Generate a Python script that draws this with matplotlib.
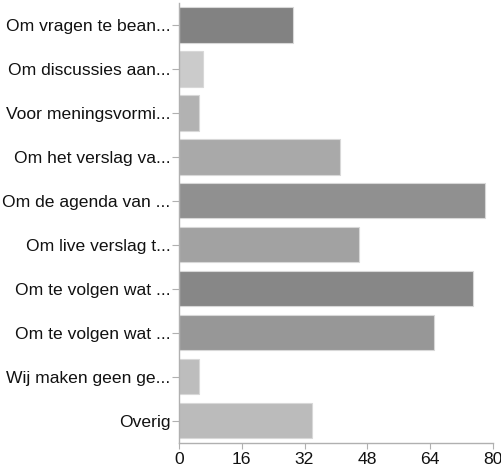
from matplotlib import pyplot as plt

labels = ["Om vragen te bean...", "Om discussies aan...", "Voor meningsvormi...",
          "Om het verslag va...", "Om de agenda van ...", "Om live verslag t...",
          "Om te volgen wat ...", "Om te volgen wat ...", "Wij maken geen ge...",
          "Overig"]
values = [29, 6, 5, 41, 78, 46, 75, 65, 5, 34]
colors = ["#828282", "#cbcbcb", "#b2b2b2", "#a9a9a9", "#909090",
          "#a2a2a2", "#878787", "#979797", "#bdbdbd", "#bbbbbb"]
xticks = [0, 16, 32, 48, 64, 80]


def main():
    plt.rcParams['font.family'] = ['Liberation Sans', 'DejaVu Sans']
    fig = plt.figure(figsize=(5.02, 4.69), dpi=100)
    ax = fig.add_axes([0.3566, 0.056, 0.625, 0.9375])

    pos = list(range(len(labels)))
    ax.barh(pos, values, height=0.8, color=colors, edgecolor="#d8d8d8", linewidth=0.8)

    ax.set_ylim(len(labels) - 0.5, -0.5)
    ax.set_xlim(0, 80)
    ax.set_yticks(pos)
    ax.set_yticklabels(labels)
    ax.set_xticks(xticks)

    for s in ["top", "right"]:
        ax.spines[s].set_visible(False)
    for s in ["left", "bottom"]:
        ax.spines[s].set_color("#b0b0b0")
        ax.spines[s].set_linewidth(1)

    ax.tick_params(axis="y", length=5, color="#b0b0b0", labelsize=12.6, pad=1, labelcolor="#111111")
    ax.tick_params(axis="x", length=4, color="#b0b0b0", labelsize=12.6, pad=3, labelcolor="#111111")

    fig.savefig("out.png", dpi=100)


if __name__ == '__main__':
    main()
